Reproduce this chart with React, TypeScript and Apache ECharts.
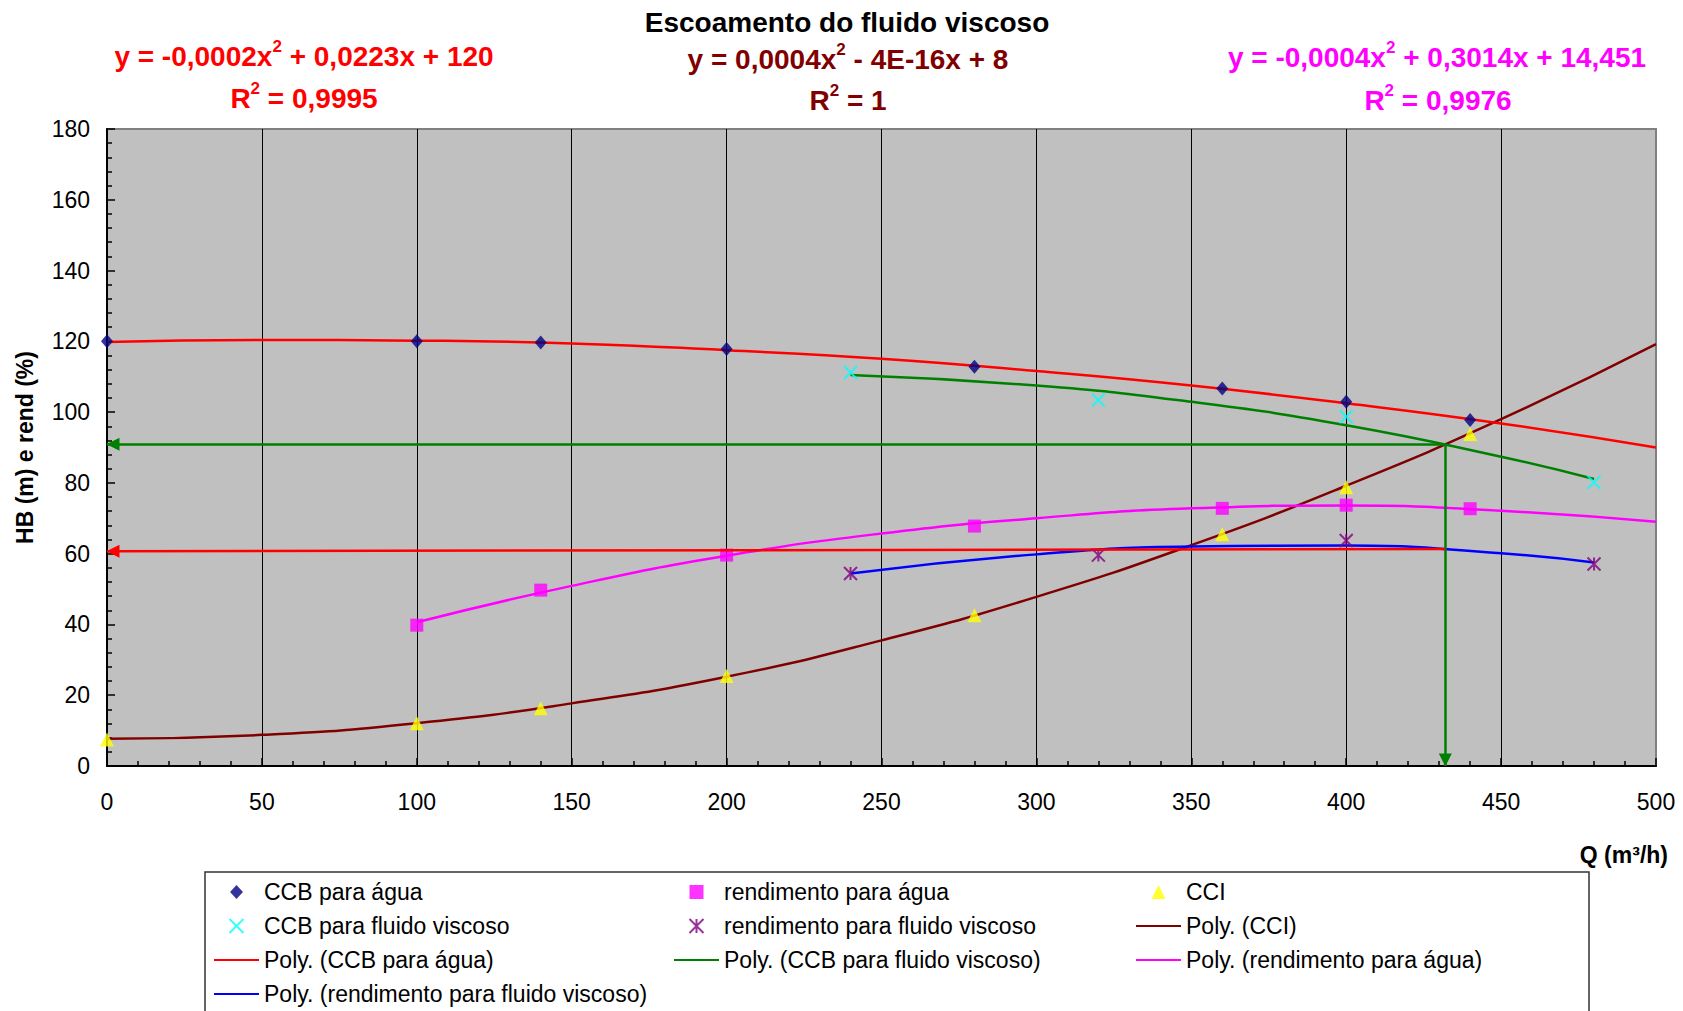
import React, { useEffect, useRef } from 'react';
import * as echarts from 'echarts';

const FONT = '"Liberation Sans", Arial, Helvetica, sans-serif';

// ---- measured points ----
const ccbAguaQ = [0, 100, 140, 200, 280, 360, 400, 440];
const ccbAguaH = [120, 120, 119.7, 117.8, 112.8, 106.7, 102.9, 97.8];

const rendAguaQ = [100, 140, 200, 280, 360, 400, 440];
const rendAgua = [39.8, 49.7, 59.6, 67.8, 72.8, 73.7, 72.7];

const cciQ = [0, 100, 140, 200, 280, 360, 400, 440];
const cciH = [7.5, 12.1, 16.3, 25.4, 42.6, 65.5, 78.8, 93.8];

const ccbViscQ = [240, 320, 400, 480];
const ccbViscH = [111.2, 103.4, 98.7, 80.2];

const rendViscQ = [240, 320, 400, 480];
const rendVisc = [54.4, 59.6, 63.7, 57.1];

// ---- trend lines ----
const trendQFull = [0, 50, 100, 150, 200, 250, 300, 350, 400, 450, 500];
const polyCCI = [7.7, 8.8, 12.1, 17.7, 25.2, 35.5, 47.8, 62.4, 79.2, 98.0, 119.2];
const polyCcbAgua = [119.8, 120.4, 120.2, 119.4, 117.5, 115.1, 111.6, 107.5, 102.5, 96.8, 90.0];

const trendQRendAgua = [100, 150, 200, 250, 300, 350, 400, 450, 500];
const polyRendAgua = [40.6, 50.9, 59.4, 65.7, 70.0, 72.8, 73.6, 72.1, 69.0];

const trendQVisc = [240, 300, 350, 400, 450, 480];
const polyCcbVisc = [110.5, 107.5, 102.9, 96.3, 87.4, 81.1];
const polyRendVisc = [54.4, 59.8, 62.0, 62.3, 60.1, 57.5];

// ---- operating point annotation ----
const opQ = 432;
const opH = 90.9;
const opRendRight = 61.3;
const opRendLeft = 60.7;

// ---- axis ticks ----
const xTicks = { min: 0, max: 500, interval: 50 };
const yTicks = { min: 0, max: 180, interval: 20 };

const legendCol1 = ['CCB para água', 'CCB para fluido viscoso', 'Poly. (CCB para água)', 'Poly. (rendimento para fluido viscoso)'];
const legendCol2 = ['rendimento para água', 'rendimento para fluido viscoso', 'Poly. (CCB para fluido viscoso)'];
const legendCol3 = ['CCI', 'Poly. (CCI)', 'Poly. (rendimento para água)'];

const pts = (xs: number[], ys: number[]) => xs.map((x, i) => [x, ys[i]]);

const DIAMOND = 'path://M6,0L12,6.5L6,13L0,6.5Z';
const SQUARE = 'path://M0,0L10,0L10,10L0,10Z';
const TRIANGLE = 'path://M6,0L12,12L0,12Z';
const XMARK = 'path://M0,0L10,10M10,0L0,10';
const ASTER = 'path://M0,0L10,10M10,0L0,10M5,0L5,10';

function eqText(x: number, y: number, text: string, color: string) {
  return {
    type: 'text',
    x,
    y,
    z: 10,
    style: {
      text,
      align: 'center',
      verticalAlign: 'middle',
      fill: color,
      font: `bold 28px ${FONT}`,
      rich: {
        a: { fontSize: 28, fontWeight: 'bold', fontFamily: FONT, fill: color, lineHeight: 36 },
        s: { fontSize: 17, fontWeight: 'bold', fontFamily: FONT, fill: color, lineHeight: 17, verticalAlign: 'top' },
      },
    },
  };
}

export default function App() {
  const ref = useRef<HTMLDivElement>(null);
  useEffect(() => {
    const chart = echarts.init(ref.current!, null, { renderer: 'svg' });
    const isPoly = (n: string) => n.indexOf('Poly.') === 0;
    const legendItems = (names: string[]) =>
      names.map((n) =>
        isPoly(n) ? { name: n, itemStyle: { color: 'rgba(0,0,0,0)', borderWidth: 0, opacity: 0 } } : { name: n }
      );
    const legendBase = {
      orient: 'vertical',
      top: 880,
      itemWidth: 45,
      itemHeight: 14,
      itemGap: 10,
      padding: 0,
      selectedMode: false,
      symbolKeepAspect: true,
      textStyle: { fontSize: 23, color: '#000', fontFamily: FONT, lineHeight: 24 },
    };
    const lineSeries = (name: string, xs: number[], ys: number[], color: string) => ({
      type: 'line',
      name,
      data: pts(xs, ys),
      smooth: true,
      symbol: 'none',
      lineStyle: { color, width: 2.5 },
      itemStyle: { color },
      z: 3,
      silent: true,
    });
    const scatterSeries = (name: string, xs: number[], ys: number[], symbol: string, size: number | number[], itemStyle: any) => ({
      type: 'scatter',
      name,
      data: pts(xs, ys),
      symbol,
      symbolSize: size,
      symbolKeepAspect: true,
      itemStyle,
      z: 4,
    });
    const option = {
      animation: false,
      backgroundColor: '#fff',
      textStyle: { fontFamily: FONT },
      grid: {
        left: 107,
        right: 27,
        top: 129,
        bottom: 245,
        show: true,
        backgroundColor: '#C0C0C0',
        borderColor: '#808080',
        borderWidth: 2,
      },
      xAxis: {
        type: 'value',
        min: xTicks.min,
        max: xTicks.max,
        interval: xTicks.interval,
        axisLine: { show: true, onZero: false, lineStyle: { color: '#000', width: 2 } },
        axisTick: { show: true, inside: true, length: 8, lineStyle: { color: '#000', width: 1.5 } },
        minorTick: { show: true, splitNumber: 5, length: 5, lineStyle: { color: '#000', width: 1.5 } },
        axisLabel: { fontSize: 23, color: '#000', margin: 24, fontFamily: FONT },
        splitLine: { show: true, showMinLine: false, showMaxLine: false, lineStyle: { color: '#000', width: 1 } },
      },
      yAxis: {
        type: 'value',
        min: yTicks.min,
        max: yTicks.max,
        interval: yTicks.interval,
        name: 'HB (m) e rend (%)',
        nameLocation: 'middle',
        nameRotate: 90,
        nameGap: 71,
        nameTextStyle: { fontSize: 23, fontWeight: 'bold', color: '#000', fontFamily: FONT },
        axisLine: { show: true, onZero: false, lineStyle: { color: '#000', width: 2 } },
        axisTick: { show: true, inside: true, length: 8, lineStyle: { color: '#000', width: 1.5 } },
        minorTick: { show: true, splitNumber: 5, length: 5, lineStyle: { color: '#000', width: 1.5 } },
        axisLabel: { fontSize: 23, color: '#000', margin: 17, fontFamily: FONT },
        splitLine: { show: false },
      },
      legend: [
        { ...legendBase, left: 213, data: legendItems(legendCol1) },
        { ...legendBase, left: 673, data: legendItems(legendCol2) },
        { ...legendBase, left: 1135, data: legendItems(legendCol3) },
      ],
      graphic: [
        {
          type: 'rect',
          shape: { x: 205, y: 872, width: 1384, height: 200 },
          style: { fill: 'none', stroke: '#333', lineWidth: 1.5 },
          z: -1,
          silent: true,
        },
        {
          type: 'text',
          x: 847,
          y: 22,
          style: {
            text: 'Escoamento do fluido viscoso',
            align: 'center',
            verticalAlign: 'middle',
            fill: '#000',
            font: `bold 28px ${FONT}`,
          },
        },
        eqText(304, 56, '{a|y = -0,0002x}{s|2}{a| + 0,0223x + 120}', '#FF0000'),
        eqText(304, 98, '{a|R}{s|2}{a| = 0,9995}', '#FF0000'),
        eqText(848, 59, '{a|y = 0,0004x}{s|2}{a| - 4E-16x + 8}', '#800000'),
        eqText(848, 100, '{a|R}{s|2}{a| = 1}', '#800000'),
        eqText(1437, 57, '{a|y = -0,0004x}{s|2}{a| + 0,3014x + 14,451}', '#FF00FF'),
        eqText(1438, 100, '{a|R}{s|2}{a| = 0,9976}', '#FF00FF'),
        {
          type: 'text',
          x: 1668,
          y: 855,
          style: {
            text: 'Q (m³/h)',
            align: 'right',
            verticalAlign: 'middle',
            fill: '#000',
            font: `bold 23px ${FONT}`,
          },
        },
      ],
      series: [
        scatterSeries('CCB para água', ccbAguaQ, ccbAguaH, DIAMOND, [13, 14], { color: '#000080' }),
        scatterSeries('rendimento para água', rendAguaQ, rendAgua, SQUARE, 13, { color: '#FF00FF' }),
        scatterSeries('CCI', cciQ, cciH, TRIANGLE, [14, 14], { color: '#FFFF00' }),
        scatterSeries('CCB para fluido viscoso', ccbViscQ, ccbViscH, XMARK, 13, {
          color: 'rgba(0,0,0,0)',
          borderColor: '#00FFFF',
          borderWidth: 2,
        }),
        scatterSeries('rendimento para fluido viscoso', rendViscQ, rendVisc, ASTER, 13, {
          color: 'rgba(0,0,0,0)',
          borderColor: '#800080',
          borderWidth: 2,
        }),
        lineSeries('Poly. (CCI)', trendQFull, polyCCI, '#800000'),
        lineSeries('Poly. (CCB para água)', trendQFull, polyCcbAgua, '#FF0000'),
        lineSeries('Poly. (CCB para fluido viscoso)', trendQVisc, polyCcbVisc, '#008000'),
        lineSeries('Poly. (rendimento para água)', trendQRendAgua, polyRendAgua, '#FF00FF'),
        lineSeries('Poly. (rendimento para fluido viscoso)', trendQVisc, polyRendVisc, '#0000FF'),
        {
          type: 'scatter',
          name: 'op-head',
          data: [],
          z: 3,
          markLine: {
            silent: true,
            animation: false,
            symbol: ['none', 'triangle'],
            symbolSize: 13,
            symbolOffset: [0, [0, 6]],
            label: { show: false },
            emphasis: { disabled: true },
            lineStyle: { color: '#008000', width: 2.5, type: 'solid' },
            itemStyle: { color: '#008000' },
            data: [
              [{ coord: [opQ, opH] }, { coord: [0, opH] }],
              [{ coord: [opQ, opH] }, { coord: [opQ, 0] }],
            ],
          },
        },
        {
          type: 'scatter',
          name: 'op-rend',
          data: [],
          z: 3,
          markLine: {
            silent: true,
            animation: false,
            symbol: ['none', 'triangle'],
            symbolSize: 13,
            symbolOffset: [0, [0, 6]],
            label: { show: false },
            emphasis: { disabled: true },
            lineStyle: { color: '#FF0000', width: 2.5, type: 'solid' },
            itemStyle: { color: '#FF0000' },
            data: [[{ coord: [opQ, opRendRight] }, { coord: [0, opRendLeft] }]],
          },
        },
      ],
    };
    chart.setOption(option as any);
    return () => chart.dispose();
  }, []);
  return (
    <div
      ref={ref}
      style={{ position: 'fixed', left: 0, top: 0, width: 1683, height: 1011, background: '#fff' }}
    />
  );
}
